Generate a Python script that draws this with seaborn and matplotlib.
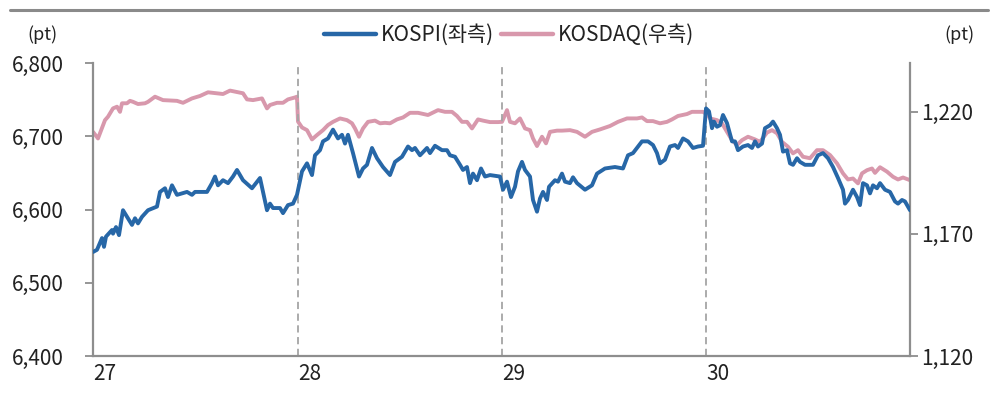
import numpy as np
import pandas as pd
import matplotlib
matplotlib.use("Agg")
import matplotlib.pyplot as plt
from matplotlib.lines import Line2D
import seaborn as sns

# ---------------- data ----------------
# observation index within the 4-session window (intraday samples)
day_labels = ["27", "28", "29", "30"]
day_start_idx = [0, 205, 409, 613]
last_idx = 817

kospi_idx = [0, 4, 9, 11, 13, 19, 20, 23, 26, 30, 39, 42, 45, 49, 55, 64, 67, 72, 75, 79,
             84, 94, 99, 102, 114, 119, 122, 125, 130, 135, 140, 144, 150, 159, 167, 174, 177, 180, 187, 190,
             195, 200, 204, 209, 214, 219, 222, 227, 230, 235, 240, 245, 249, 252, 255, 260, 266, 270, 274, 279,
             284, 290, 297, 302, 309, 315, 319, 322, 327, 334, 337, 342, 349, 354, 357, 362, 367, 370, 374, 377,
             380, 384, 388, 392, 397, 407, 410, 414, 418, 422, 425, 429, 432, 437, 440, 444, 447, 450, 454, 456,
             462, 465, 469, 472, 477, 480, 484, 492, 499, 504, 512, 522, 530, 535, 540, 545, 549, 555, 560, 564,
             567, 572, 577, 582, 585, 590, 595, 600, 605, 610, 613, 616, 619, 621, 624, 627, 630, 634, 639, 642,
             645, 650, 655, 659, 662, 665, 669, 672, 677, 680, 684, 687, 690, 694, 697, 700, 704, 707, 712, 720,
             725, 730, 735, 740, 745, 750, 752, 755, 760, 764, 767, 770, 774, 777, 780, 784, 787, 792, 797, 802,
             805, 809, 812, 817]
kospi_val = [6542, 6545, 6561, 6549, 6563, 6572, 6567, 6576, 6565, 6599, 6579, 6588, 6581, 6590, 6599, 6604, 6624, 6629, 6617, 6633,
             6620, 6624, 6620, 6624, 6624, 6636, 6645, 6633, 6640, 6636, 6645, 6654, 6640, 6629, 6643, 6599, 6608, 6602, 6602, 6595,
             6606, 6608, 6620, 6652, 6663, 6647, 6674, 6681, 6693, 6697, 6709, 6697, 6702, 6690, 6702, 6677, 6645, 6656, 6661, 6684,
             6670, 6658, 6647, 6665, 6672, 6686, 6681, 6684, 6674, 6684, 6677, 6687, 6681, 6681, 6674, 6672, 6661, 6654, 6658, 6636,
             6649, 6640, 6656, 6645, 6647, 6645, 6627, 6638, 6617, 6631, 6652, 6665, 6654, 6645, 6613, 6597, 6615, 6624, 6613, 6631,
             6640, 6638, 6649, 6638, 6636, 6644, 6636, 6627, 6633, 6649, 6656, 6658, 6656, 6674, 6677, 6686, 6693, 6693, 6688, 6677,
             6663, 6668, 6686, 6688, 6684, 6697, 6693, 6684, 6686, 6687, 6738, 6734, 6711, 6720, 6713, 6715, 6729, 6718, 6693, 6693,
             6681, 6686, 6688, 6684, 6693, 6686, 6690, 6711, 6715, 6720, 6711, 6702, 6679, 6681, 6663, 6661, 6670, 6665, 6661, 6661,
             6674, 6677, 6670, 6658, 6643, 6627, 6608, 6613, 6627, 6617, 6606, 6636, 6633, 6622, 6633, 6629, 6636, 6627, 6624, 6611,
             6608, 6613, 6611, 6599]

kosdaq_idx = [0, 5, 12, 15, 20, 24, 27, 29, 34, 37, 40, 45, 52, 55, 62, 70, 84, 90, 99, 107,
              115, 124, 130, 137, 144, 150, 154, 160, 169, 174, 177, 184, 190, 195, 202, 204, 205, 209, 214, 219,
              224, 230, 235, 240, 247, 254, 259, 262, 266, 270, 275, 282, 287, 292, 297, 304, 310, 317, 325, 335,
              345, 352, 359, 364, 369, 374, 379, 385, 390, 397, 405, 409, 414, 417, 422, 427, 432, 437, 440, 444,
              449, 453, 457, 464, 469, 477, 484, 492, 499, 507, 517, 525, 534, 544, 549, 554, 560, 567, 574, 579,
              585, 594, 599, 605, 610, 615, 617, 624, 629, 634, 639, 644, 649, 655, 662, 667, 674, 679, 684, 689,
              695, 700, 705, 710, 717, 724, 730, 737, 744, 750, 755, 760, 765, 769, 774, 779, 782, 787, 794, 800,
              805, 810, 817]
kosdaq_val = [1211.8, 1209.1, 1216.6, 1218.0, 1221.4, 1222.1, 1220.0, 1223.5, 1223.5, 1224.5, 1224.1, 1223.2, 1223.5, 1224.1, 1226.2, 1224.8, 1224.5, 1223.7, 1225.5, 1226.5,
              1228.0, 1227.6, 1227.3, 1228.7, 1228.1, 1227.6, 1225.1, 1224.8, 1225.5, 1221.4, 1222.8, 1223.7, 1223.7, 1225.1, 1225.9, 1226.2, 1216.0, 1213.6, 1212.5, 1208.7,
              1210.5, 1212.5, 1214.6, 1215.9, 1217.3, 1216.6, 1215.3, 1213.2, 1209.8, 1213.2, 1215.9, 1216.4, 1215.3, 1215.5, 1215.3, 1216.9, 1217.7, 1219.6, 1219.6, 1218.7,
              1220.7, 1220.0, 1220.0, 1218.3, 1215.9, 1215.9, 1213.2, 1216.9, 1216.4, 1215.8, 1215.8, 1215.9, 1220.7, 1215.9, 1215.3, 1217.3, 1213.2, 1212.5, 1209.1, 1206.0,
              1209.8, 1207.1, 1211.8, 1212.3, 1212.3, 1212.5, 1211.8, 1209.8, 1211.8, 1212.8, 1214.2, 1215.9, 1217.3, 1217.3, 1217.7, 1216.2, 1216.2, 1215.3, 1215.9, 1216.9,
              1218.3, 1219.1, 1220.0, 1220.0, 1220.0, 1218.7, 1217.3, 1216.6, 1215.3, 1211.8, 1208.4, 1206.4, 1208.4, 1209.8, 1208.7, 1207.7, 1211.5, 1212.5, 1211.2, 1207.7,
              1205.7, 1203.0, 1204.3, 1201.6, 1201.0, 1204.3, 1204.3, 1202.3, 1198.9, 1194.8, 1192.3, 1192.7, 1190.7, 1194.8, 1196.1, 1196.8, 1195.0, 1197.3, 1195.5, 1193.4,
              1192.3, 1193.1, 1192.0]

left_ticks = [6400, 6500, 6600, 6700, 6800]
right_ticks = [1120, 1170, 1220]

series_names = ["KOSPI(좌측)", "KOSDAQ(우측)"]

# ---------------- style ----------------
sns.set_style("white")
plt.rcParams["font.family"] = ["Noto Sans CJK KR", "DejaVu Sans"]
plt.rcParams["font.weight"] = "light"

BLUE = "#2767A7"
PINK = "#D898AC"
GRAY = "#8E8E8E"
TXT = "#222222"
FS = 15

fig = plt.figure(figsize=(9.98, 3.94), dpi=100)
ax = fig.add_axes([93 / 998, 1 - 356 / 394, (910 - 93) / 998, (356 - 63) / 394])
ax2 = ax.twinx()

df_k = pd.DataFrame({"idx": kospi_idx, "val": kospi_val})
df_q = pd.DataFrame({"idx": kosdaq_idx, "val": kosdaq_val})

sns.lineplot(data=df_k, x="idx", y="val", ax=ax, color=BLUE, lw=2.8, zorder=3)
sns.lineplot(data=df_q, x="idx", y="val", ax=ax2, color=PINK, lw=2.8, zorder=2)
ax.set_zorder(ax2.get_zorder() + 1)
ax.patch.set_visible(False)

ax.set_xlim(0, last_idx)
ax.set_ylim(6400, 6800)
ax2.set_ylim(1120, 1240)

for d in day_start_idx[1:]:
    ax.axvline(d, color="#A5A5A5", lw=1.3, ls=(0, (4, 2.5)), zorder=1)

ax.set_yticks(left_ticks)
ax.set_yticklabels([f"{v:,}" for v in left_ticks])
ax2.set_yticks(right_ticks)
ax2.set_yticklabels([f"{v:,}" for v in right_ticks])
ax.set_xticks(day_start_idx)
ax.set_xticklabels(day_labels, ha="left")
ax.set_xlabel("")
ax.set_ylabel("")
ax2.set_ylabel("")

ax.tick_params(axis="y", length=6, width=1.3, color=GRAY, labelsize=FS, labelcolor=TXT, pad=15, direction="out", left=True)
ax2.tick_params(axis="y", length=6, width=1.3, color=GRAY, labelsize=FS, labelcolor=TXT, pad=2, direction="out", right=True)
ax.tick_params(axis="x", length=0, labelsize=FS, labelcolor=TXT, pad=5)

for a in (ax, ax2):
    a.spines["top"].set_visible(False)
    for s in ["left", "right", "bottom"]:
        a.spines[s].set_color(GRAY)
        a.spines[s].set_linewidth(1.6)
ax.spines["right"].set_visible(False)
ax2.spines["left"].set_visible(False)
ax2.spines["bottom"].set_visible(False)

# top rule
fig.add_artist(Line2D([0.01, 0.99], [1 - 10 / 394, 1 - 10 / 394], transform=fig.transFigure,
                      color="#8A8A8A", lw=2.2))

# unit labels
fig.text(42 / 998, 1 - 35 / 394, "(pt)", ha="center", va="center", fontsize=13, color=TXT)
fig.text(959 / 998, 1 - 35 / 394, "(pt)", ha="center", va="center", fontsize=13, color=TXT)

handles = [Line2D([], [], color=BLUE, lw=3.2, solid_capstyle="round"),
           Line2D([], [], color=PINK, lw=3.2, solid_capstyle="round")]
fig.legend(handles, series_names, loc="center", bbox_to_anchor=(509 / 998, 1 - 35 / 394), ncol=2,
           frameon=False, fontsize=FS, handlelength=2.5, handletextpad=0.25, columnspacing=0.3,
           labelcolor=TXT)

fig.savefig("out.png", dpi=100)
